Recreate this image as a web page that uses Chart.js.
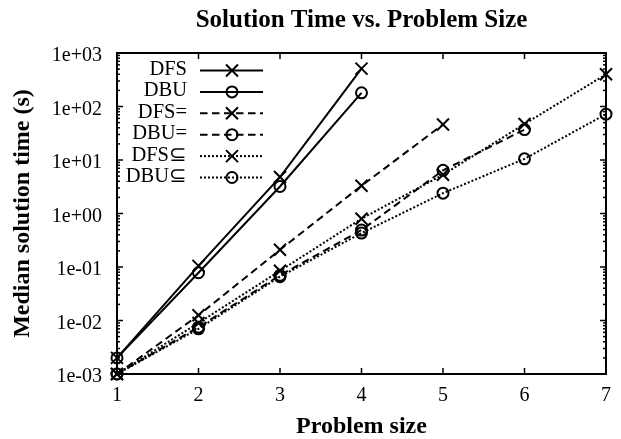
<!DOCTYPE html>
<html>
<head>
<meta charset="utf-8">
<script src="https://cdn.jsdelivr.net/npm/chart.js"></script>
<style>
  html, body { margin: 0; padding: 0; background: #fff; }
  #wrap { width: 621px; height: 439px; }
</style>
</head>
<body>
<div id="wrap"><canvas id="c" width="621" height="439"></canvas></div>
<script>
// ---- data ----
const sizes = [1, 2, 3, 4, 5, 6, 7];
const yTickValues = [1e-3, 1e-2, 1e-1, 1, 10, 100, 1000];
const seriesLabels = ['DFS', 'DBU', 'DFS=', 'DBU=', 'DFS\u2286', 'DBU\u2286'];
const dfs    = [0.002, 0.105, 4.8, 510];
const dbu    = [0.002, 0.078, 3.2, 180];
const dfsEq  = [0.001, 0.0125, 0.21, 3.3, 46];
const dbuEq  = [0.001, 0.0075, 0.07, 0.49, 6.4, 37];
const dfsSub = [0.001, 0.009, 0.085, 0.8, 5.3, 47, 400];
const dbuSub = [0.001, 0.007, 0.066, 0.43, 2.4, 10.5, 72];

const seriesValues = [dfs, dbu, dfsEq, dbuEq, dfsSub, dbuSub];
const FONT = "'Liberation Serif', 'Times New Roman', serif";

const dashStyles = [[], [], [7.5, 4.5], [7.5, 4.5], [2, 2], [2, 2]];
const markerStyles = ['crossRot', 'circle', 'crossRot', 'circle', 'crossRot', 'circle'];

const datasets = seriesValues.map((vals, i) => ({
  label: seriesLabels[i],
  data: vals.map((v, j) => ({ x: sizes[j], y: v })),
  borderColor: '#000',
  borderWidth: 2,
  borderDash: dashStyles[i],
  borderCapStyle: 'butt',
  tension: 0,
  fill: false,
  pointStyle: markerStyles[i],
  pointRadius: markerStyles[i] === 'circle' ? 5.5 : 8.5,
  pointBorderWidth: 2,
  pointBorderColor: '#000',
  pointBackgroundColor: 'rgba(0,0,0,0)',
  clip: false
}));

function fmtExp(v) {
  const e = Math.round(Math.log10(v));
  return '1e' + (e < 0 ? '-' : '+') + String(Math.abs(e)).padStart(2, '0');
}

function drawMarker(ctx, style, x, y, r) {
  ctx.beginPath();
  if (style === 'circle') {
    ctx.arc(x, y, r, 0, Math.PI * 2);
  } else {
    const d = r * Math.SQRT1_2;
    ctx.moveTo(x - d, y - d); ctx.lineTo(x + d, y + d);
    ctx.moveTo(x - d, y + d); ctx.lineTo(x + d, y - d);
  }
  ctx.stroke();
}

const framePlugin = {
  id: 'frame',
  afterDatasetsDraw(chart) {
    const { ctx, chartArea, scales } = chart;
    const { left, right, top, bottom } = chartArea;
    const xs = scales.x, ys = scales.y;
    ctx.save();
    ctx.strokeStyle = '#000';
    ctx.setLineDash([]);
    ctx.lineWidth = 1.5;
    const seg = (x1, y1, x2, y2) => { ctx.beginPath(); ctx.moveTo(x1, y1); ctx.lineTo(x2, y2); ctx.stroke(); };
    // x major ticks (inward, top and bottom)
    xs.ticks.forEach(t => {
      const px = xs.getPixelForValue(t.value);
      seg(px, bottom, px, bottom - 6);
      seg(px, top, px, top + 6);
    });
    // y major + minor ticks (log)
    for (let e = -3; e <= 3; e++) {
      for (let m = 1; m <= 9; m++) {
        const v = m * Math.pow(10, e);
        if (v > 1000 * 1.0001) break;
        const py = ys.getPixelForValue(v);
        const len = m === 1 ? 6 : 3;
        seg(left, py, left + len, py);
        seg(right, py, right - len, py);
      }
    }
    // border box
    ctx.lineWidth = 2;
    ctx.strokeRect(left, top, right - left, bottom - top);

    // legend (inside plot, top-left)
    const textRight = 187, lineX1 = 200, lineX2 = 263, markX = 232;
    const row0 = 70.5, rowStep = 21.4;
    ctx.font = '20.5px ' + FONT;
    ctx.fillStyle = '#000';
    ctx.textAlign = 'right';
    ctx.textBaseline = 'middle';
    chart.data.datasets.forEach((ds, i) => {
      const yy = row0 + i * rowStep;
      ctx.fillText(ds.label, textRight, yy - 0.8);
      ctx.lineWidth = ds.borderWidth;
      ctx.lineCap = 'butt';
      ctx.setLineDash(ds.borderDash || []);
      seg(lineX1, yy, lineX2, yy);
      ctx.setLineDash([]);
      ctx.lineWidth = ds.pointBorderWidth;
      drawMarker(ctx, ds.pointStyle, markX, yy, ds.pointRadius);
    });
    ctx.restore();
  }
};

new Chart(document.getElementById('c'), {
  type: 'line',
  data: { datasets },
  plugins: [framePlugin],
  options: {
    responsive: false,
    animation: false,
    devicePixelRatio: 1,
    layout: { padding: { left: 0, right: 13, top: 0, bottom: 0 } },
    plugins: {
      legend: { display: false },
      tooltip: { enabled: false },
      title: {
        display: true,
        fullSize: false,
        text: 'Solution Time vs. Problem Size',
        color: '#000',
        font: { family: FONT, size: 25, weight: 'bold', lineHeight: 1.2 },
        padding: { top: 6, bottom: 17 }
      }
    },
    scales: {
      x: {
        type: 'linear',
        min: 1, max: 7,
        afterFit: s => { s.height = 65; },
        grid: { display: false, drawTicks: false },
        border: { display: false },
        ticks: {
          stepSize: 1,
          color: '#000',
          padding: 10,
          font: { family: FONT, size: 20 },
          callback: v => String(v)
        },
        title: {
          display: true,
          text: 'Problem size',
          color: '#000',
          font: { family: FONT, size: 24, weight: 'bold', lineHeight: 1 },
          padding: { top: 0, bottom: 0 }
        }
      },
      y: {
        type: 'logarithmic',
        min: 1e-3, max: 1e3,
        afterFit: s => { s.width = 117; },
        afterBuildTicks: s => { s.ticks = yTickValues.map(v => ({ value: v })); },
        grid: { display: false, drawTicks: false },
        border: { display: false },
        ticks: {
          color: '#000',
          padding: 15,
          labelOffset: 3,
          font: { family: FONT, size: 20 },
          callback: v => fmtExp(v)
        },
        title: {
          display: true,
          text: 'Median solution time (s)',
          color: '#000',
          font: { family: FONT, size: 24, weight: 'bold', lineHeight: 1.2 },
          padding: { top: 8.6, bottom: 0 }
        }
      }
    }
  }
});
</script>
</body>
</html>
